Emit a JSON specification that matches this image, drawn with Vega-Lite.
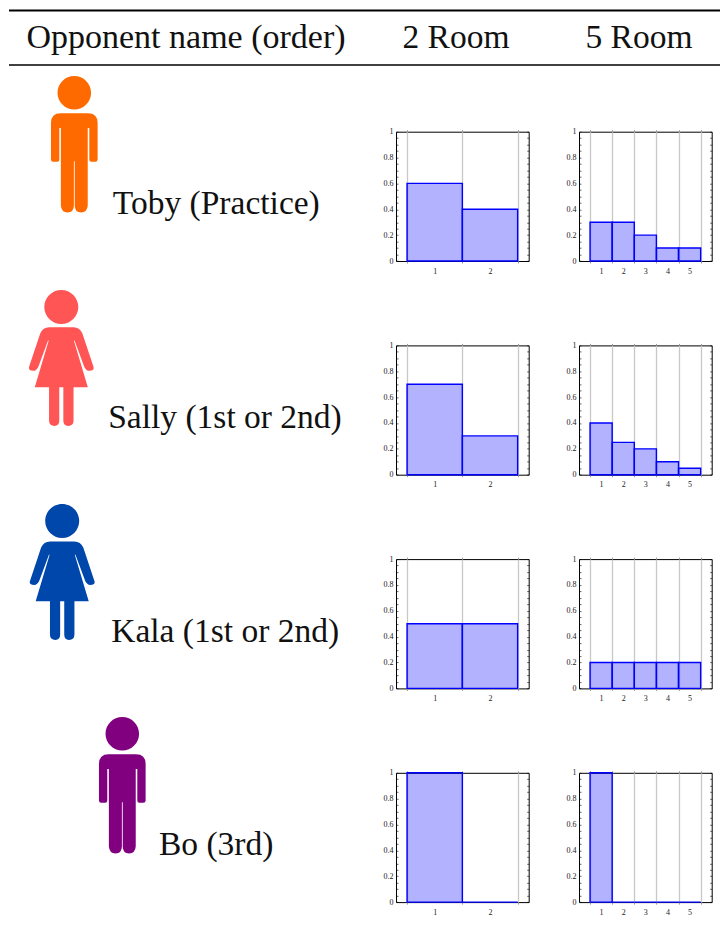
{"$schema":"https://vega.github.io/schema/vega-lite/v6.json","padding":0,"background":"white","spacing":65.7,"bounds":"flush",
"config":{"view":{"stroke":"#000000","strokeWidth":1},"text":{"font":"Liberation Serif"},"axis":{"labelFont":"Liberation Serif","labelFontSize":8,"labelColor":"#222222","title":null,"domain":false}},
"datasets":{
"opponents":[{"opponent":"Toby","label":"Toby (Practice)"},{"opponent":"Sally","label":"Sally (1st or 2nd)"},{"opponent":"Kala","label":"Kala (1st or 2nd)"},{"opponent":"Bo","label":"Bo (3rd)"}],
"results":[
{"opponent":"Toby","rooms":2,"door":1,"share":0.6},{"opponent":"Toby","rooms":2,"door":2,"share":0.4},
{"opponent":"Toby","rooms":5,"door":1,"share":0.3},{"opponent":"Toby","rooms":5,"door":2,"share":0.3},{"opponent":"Toby","rooms":5,"door":3,"share":0.2},{"opponent":"Toby","rooms":5,"door":4,"share":0.1},{"opponent":"Toby","rooms":5,"door":5,"share":0.1},
{"opponent":"Sally","rooms":2,"door":1,"share":0.7},{"opponent":"Sally","rooms":2,"door":2,"share":0.3},
{"opponent":"Sally","rooms":5,"door":1,"share":0.4},{"opponent":"Sally","rooms":5,"door":2,"share":0.25},{"opponent":"Sally","rooms":5,"door":3,"share":0.2},{"opponent":"Sally","rooms":5,"door":4,"share":0.1},{"opponent":"Sally","rooms":5,"door":5,"share":0.05},
{"opponent":"Kala","rooms":2,"door":1,"share":0.5},{"opponent":"Kala","rooms":2,"door":2,"share":0.5},
{"opponent":"Kala","rooms":5,"door":1,"share":0.2},{"opponent":"Kala","rooms":5,"door":2,"share":0.2},{"opponent":"Kala","rooms":5,"door":3,"share":0.2},{"opponent":"Kala","rooms":5,"door":4,"share":0.2},{"opponent":"Kala","rooms":5,"door":5,"share":0.2},
{"opponent":"Bo","rooms":2,"door":1,"share":1},{"opponent":"Bo","rooms":2,"door":2,"share":0},
{"opponent":"Bo","rooms":5,"door":1,"share":1},{"opponent":"Bo","rooms":5,"door":2,"share":0},{"opponent":"Bo","rooms":5,"door":3,"share":0},{"opponent":"Bo","rooms":5,"door":4,"share":0},{"opponent":"Bo","rooms":5,"door":5,"share":0}
]},
"vconcat":[
{"width":720,"height":66,"view":{"stroke":null},"layer":[
{"data":{"values":[{"rule":"top"}]},"mark":{"type":"rule","color":"#000000","strokeWidth":2},"encoding":{"x":{"datum":9,"type":"quantitative","scale":{"domain":[0,720],"range":[0,720],"nice":false},"axis":null},"x2":{"datum":720},"y":{"datum":10.5,"type":"quantitative","scale":{"domain":[0,66],"range":[0,66],"nice":false},"axis":null}}},
{"data":{"values":[{"rule":"bottom"}]},"mark":{"type":"rule","color":"#000000","strokeWidth":1.3},"encoding":{"x":{"datum":9,"type":"quantitative"},"x2":{"datum":720},"y":{"datum":65,"type":"quantitative"}}},
{"data":{"values":[{"column":"Opponent name (order)"}]},"mark":{"type":"text","fontSize":34,"align":"center","baseline":"alphabetic","color":"#111111"},"encoding":{"text":{"field":"column"},"x":{"datum":186,"type":"quantitative"},"y":{"datum":47.5,"type":"quantitative"}}},
{"data":{"values":[{"column":"2 Room"}]},"mark":{"type":"text","fontSize":33.5,"align":"center","baseline":"alphabetic","color":"#111111"},"encoding":{"text":{"field":"column"},"x":{"datum":456,"type":"quantitative"},"y":{"datum":47.5,"type":"quantitative"}}},
{"data":{"values":[{"column":"5 Room"}]},"mark":{"type":"text","fontSize":33.5,"align":"center","baseline":"alphabetic","color":"#111111"},"encoding":{"text":{"field":"column"},"x":{"datum":639,"type":"quantitative"},"y":{"datum":47.5,"type":"quantitative"}}}
]},
{"columns":3,"spacing":{"row":83.7,"column":50},"bounds":"flush","align":"each","concat":[
{"width":345.7,"height":129.3,"view":{"stroke":null},"data":{"name":"opponents"},"transform":[{"filter":"datum.opponent=='Toby'"}],"layer":[
{"mark":{"type":"point","filled":true,"opacity":1,"strokeWidth":0,"size":18605,"shape":"M-0.246,-0.755A0.246,0.246 0 1 1 0.246,-0.755A0.246,0.246 0 1 1 -0.246,-0.755ZM-0.2,-0.453L0.2,-0.453Q0.342,-0.453 0.342,-0.31L0.342,0.225Q0.342,0.257 0.31,0.257L0.25,0.257Q0.22,0.257 0.22,0.225L0.22,-0.238L0.197,-0.238L0.197,0.9Q0.19,1 0.1,1Q0.006,1 0.006,0.9L0.006,0.25L-0.006,0.25L-0.006,0.9Q-0.006,1 -0.1,1Q-0.19,1 -0.197,0.9L-0.197,-0.238L-0.22,-0.238L-0.22,0.225Q-0.22,0.257 -0.25,0.257L-0.31,0.257Q-0.342,0.257 -0.342,0.225L-0.342,-0.31Q-0.342,-0.453 -0.2,-0.453Z"},"encoding":{"x":{"datum":74.3,"type":"quantitative","scale":{"domain":[0,346.7],"range":[0,346.7],"nice":false},"axis":null},"y":{"datum":12.5,"type":"quantitative","scale":{"domain":[0,129.3],"range":[0,129.3],"nice":false},"axis":null},"color":{"field":"opponent","type":"nominal","legend":null,"scale":{"domain":["Toby","Sally","Kala","Bo"],"range":["#FF6A00","#FF5555","#0047AB","#800080"]}}}},
{"mark":{"type":"text","fontSize":33.5,"align":"center","baseline":"alphabetic","color":"#111111"},"encoding":{"text":{"field":"label"},"x":{"datum":216.3,"type":"quantitative"},"y":{"datum":81.8,"type":"quantitative"}}}
]},
{"width":132.7,"height":129.3,"data":{"name":"results"},"transform":[{"filter":"datum.opponent=='Toby'&&datum.rooms==2"}],"resolve":{"axis":{"x":"independent","y":"independent"}},"layer":[
{"mark":{"type":"bar","fill":"#0000ff","fillOpacity":0.3,"stroke":"#0000ff","strokeWidth":1.4},"encoding":{"x":{"field":"door","type":"ordinal","scale":{"type":"band","domain":[1,2],"paddingInner":0,"paddingOuter":0.2},"axis":{"orient":"bottom","tickBand":"extent","labelAngle":0,"grid":true,"gridColor":"#c8c8c8","gridWidth":1.3,"tickColor":"#999999","tickSize":2,"labelPadding":4}},"y":{"field":"share","type":"quantitative","scale":{"domain":[0,1]},"axis":{"orient":"left","grid":false,"values":[0,0.05,0.1,0.15,0.2,0.25,0.3,0.35,0.4,0.45,0.5,0.55,0.6,0.65,0.7,0.75,0.8,0.85,0.9,0.95,1],"format":"~g","labelExpr":"round(datum.value*100)%20==0?datum.label:''","tickSize":-2,"tickColor":"#000000","tickWidth":0.6,"labelPadding":5,"labelFlush":false,"labelOverlap":false}}}},
{"mark":{"type":"bar","opacity":0},"encoding":{"x":{"field":"door","type":"ordinal","axis":{"orient":"top","tickBand":"extent","labels":false,"grid":false,"tickColor":"#999999","tickSize":2}},"y":{"field":"share","type":"quantitative","axis":{"orient":"right","grid":false,"labels":false,"values":[0,0.05,0.1,0.15,0.2,0.25,0.3,0.35,0.4,0.45,0.5,0.55,0.6,0.65,0.7,0.75,0.8,0.85,0.9,0.95,1],"tickSize":-2,"tickColor":"#000000","tickWidth":0.6}}}}
]},
{"width":132.7,"height":129.3,"data":{"name":"results"},"transform":[{"filter":"datum.opponent=='Toby'&&datum.rooms==5"}],"resolve":{"axis":{"x":"independent","y":"independent"}},"layer":[
{"mark":{"type":"bar","fill":"#0000ff","fillOpacity":0.3,"stroke":"#0000ff","strokeWidth":1.4},"encoding":{"x":{"field":"door","type":"ordinal","scale":{"type":"band","domain":[1,2,3,4,5],"paddingInner":0,"paddingOuter":0.5},"axis":{"orient":"bottom","tickBand":"extent","labelAngle":0,"grid":true,"gridColor":"#c8c8c8","gridWidth":1.3,"tickColor":"#999999","tickSize":2,"labelPadding":4}},"y":{"field":"share","type":"quantitative","scale":{"domain":[0,1]},"axis":{"orient":"left","grid":false,"values":[0,0.05,0.1,0.15,0.2,0.25,0.3,0.35,0.4,0.45,0.5,0.55,0.6,0.65,0.7,0.75,0.8,0.85,0.9,0.95,1],"format":"~g","labelExpr":"round(datum.value*100)%20==0?datum.label:''","tickSize":-2,"tickColor":"#000000","tickWidth":0.6,"labelPadding":5,"labelFlush":false,"labelOverlap":false}}}},
{"mark":{"type":"bar","opacity":0},"encoding":{"x":{"field":"door","type":"ordinal","axis":{"orient":"top","tickBand":"extent","labels":false,"grid":false,"tickColor":"#999999","tickSize":2}},"y":{"field":"share","type":"quantitative","axis":{"orient":"right","grid":false,"labels":false,"values":[0,0.05,0.1,0.15,0.2,0.25,0.3,0.35,0.4,0.45,0.5,0.55,0.6,0.65,0.7,0.75,0.8,0.85,0.9,0.95,1],"tickSize":-2,"tickColor":"#000000","tickWidth":0.6}}}}
]},
{"width":345.7,"height":129.3,"view":{"stroke":null},"data":{"name":"opponents"},"transform":[{"filter":"datum.opponent=='Sally'"}],"layer":[
{"mark":{"type":"point","filled":true,"opacity":1,"strokeWidth":0,"size":18496,"shape":"M-0.25,-0.75A0.25,0.25 0 1 1 0.25,-0.75A0.25,0.25 0 1 1 -0.25,-0.75ZM-0.18,-0.45L0.18,-0.45Q0.27,-0.45 0.31,-0.36L0.47,0.12Q0.5,0.19 0.41,0.19Q0.37,0.19 0.34,0.137L0.195,-0.255L0.185,-0.255L0.39,0.43L0.18,0.43L0.18,0.92Q0.18,1 0.1,1Q0.03,1 0.03,0.92L0.03,0.43L-0.03,0.43L-0.03,0.92Q-0.03,1 -0.1,1Q-0.18,1 -0.18,0.92L-0.18,0.43L-0.39,0.43L-0.185,-0.255L-0.195,-0.255L-0.34,0.137Q-0.37,0.19 -0.41,0.19Q-0.5,0.19 -0.47,0.12L-0.31,-0.36Q-0.27,-0.45 -0.18,-0.45Z"},"encoding":{"x":{"datum":61.3,"type":"quantitative","scale":{"domain":[0,346.7],"range":[0,346.7],"nice":false},"axis":null},"y":{"datum":12.5,"type":"quantitative","scale":{"domain":[0,129.3],"range":[0,129.3],"nice":false},"axis":null},"color":{"field":"opponent","type":"nominal","legend":null,"scale":{"domain":["Toby","Sally","Kala","Bo"],"range":["#FF6A00","#FF5555","#0047AB","#800080"]}}}},
{"mark":{"type":"text","fontSize":33.5,"align":"center","baseline":"alphabetic","color":"#111111"},"encoding":{"text":{"field":"label"},"x":{"datum":225,"type":"quantitative"},"y":{"datum":82.8,"type":"quantitative"}}}
]},
{"width":132.7,"height":129.3,"data":{"name":"results"},"transform":[{"filter":"datum.opponent=='Sally'&&datum.rooms==2"}],"resolve":{"axis":{"x":"independent","y":"independent"}},"layer":[
{"mark":{"type":"bar","fill":"#0000ff","fillOpacity":0.3,"stroke":"#0000ff","strokeWidth":1.4},"encoding":{"x":{"field":"door","type":"ordinal","scale":{"type":"band","domain":[1,2],"paddingInner":0,"paddingOuter":0.2},"axis":{"orient":"bottom","tickBand":"extent","labelAngle":0,"grid":true,"gridColor":"#c8c8c8","gridWidth":1.3,"tickColor":"#999999","tickSize":2,"labelPadding":4}},"y":{"field":"share","type":"quantitative","scale":{"domain":[0,1]},"axis":{"orient":"left","grid":false,"values":[0,0.05,0.1,0.15,0.2,0.25,0.3,0.35,0.4,0.45,0.5,0.55,0.6,0.65,0.7,0.75,0.8,0.85,0.9,0.95,1],"format":"~g","labelExpr":"round(datum.value*100)%20==0?datum.label:''","tickSize":-2,"tickColor":"#000000","tickWidth":0.6,"labelPadding":5,"labelFlush":false,"labelOverlap":false}}}},
{"mark":{"type":"bar","opacity":0},"encoding":{"x":{"field":"door","type":"ordinal","axis":{"orient":"top","tickBand":"extent","labels":false,"grid":false,"tickColor":"#999999","tickSize":2}},"y":{"field":"share","type":"quantitative","axis":{"orient":"right","grid":false,"labels":false,"values":[0,0.05,0.1,0.15,0.2,0.25,0.3,0.35,0.4,0.45,0.5,0.55,0.6,0.65,0.7,0.75,0.8,0.85,0.9,0.95,1],"tickSize":-2,"tickColor":"#000000","tickWidth":0.6}}}}
]},
{"width":132.7,"height":129.3,"data":{"name":"results"},"transform":[{"filter":"datum.opponent=='Sally'&&datum.rooms==5"}],"resolve":{"axis":{"x":"independent","y":"independent"}},"layer":[
{"mark":{"type":"bar","fill":"#0000ff","fillOpacity":0.3,"stroke":"#0000ff","strokeWidth":1.4},"encoding":{"x":{"field":"door","type":"ordinal","scale":{"type":"band","domain":[1,2,3,4,5],"paddingInner":0,"paddingOuter":0.5},"axis":{"orient":"bottom","tickBand":"extent","labelAngle":0,"grid":true,"gridColor":"#c8c8c8","gridWidth":1.3,"tickColor":"#999999","tickSize":2,"labelPadding":4}},"y":{"field":"share","type":"quantitative","scale":{"domain":[0,1]},"axis":{"orient":"left","grid":false,"values":[0,0.05,0.1,0.15,0.2,0.25,0.3,0.35,0.4,0.45,0.5,0.55,0.6,0.65,0.7,0.75,0.8,0.85,0.9,0.95,1],"format":"~g","labelExpr":"round(datum.value*100)%20==0?datum.label:''","tickSize":-2,"tickColor":"#000000","tickWidth":0.6,"labelPadding":5,"labelFlush":false,"labelOverlap":false}}}},
{"mark":{"type":"bar","opacity":0},"encoding":{"x":{"field":"door","type":"ordinal","axis":{"orient":"top","tickBand":"extent","labels":false,"grid":false,"tickColor":"#999999","tickSize":2}},"y":{"field":"share","type":"quantitative","axis":{"orient":"right","grid":false,"labels":false,"values":[0,0.05,0.1,0.15,0.2,0.25,0.3,0.35,0.4,0.45,0.5,0.55,0.6,0.65,0.7,0.75,0.8,0.85,0.9,0.95,1],"tickSize":-2,"tickColor":"#000000","tickWidth":0.6}}}}
]},
{"width":345.7,"height":129.3,"view":{"stroke":null},"data":{"name":"opponents"},"transform":[{"filter":"datum.opponent=='Kala'"}],"layer":[
{"mark":{"type":"point","filled":true,"opacity":1,"strokeWidth":0,"size":18496,"shape":"M-0.25,-0.75A0.25,0.25 0 1 1 0.25,-0.75A0.25,0.25 0 1 1 -0.25,-0.75ZM-0.18,-0.45L0.18,-0.45Q0.27,-0.45 0.31,-0.36L0.47,0.12Q0.5,0.19 0.41,0.19Q0.37,0.19 0.34,0.137L0.195,-0.255L0.185,-0.255L0.39,0.43L0.18,0.43L0.18,0.92Q0.18,1 0.1,1Q0.03,1 0.03,0.92L0.03,0.43L-0.03,0.43L-0.03,0.92Q-0.03,1 -0.1,1Q-0.18,1 -0.18,0.92L-0.18,0.43L-0.39,0.43L-0.185,-0.255L-0.195,-0.255L-0.34,0.137Q-0.37,0.19 -0.41,0.19Q-0.5,0.19 -0.47,0.12L-0.31,-0.36Q-0.27,-0.45 -0.18,-0.45Z"},"encoding":{"x":{"datum":62.2,"type":"quantitative","scale":{"domain":[0,346.7],"range":[0,346.7],"nice":false},"axis":null},"y":{"datum":12.9,"type":"quantitative","scale":{"domain":[0,129.3],"range":[0,129.3],"nice":false},"axis":null},"color":{"field":"opponent","type":"nominal","legend":null,"scale":{"domain":["Toby","Sally","Kala","Bo"],"range":["#FF6A00","#FF5555","#0047AB","#800080"]}}}},
{"mark":{"type":"text","fontSize":33.5,"align":"center","baseline":"alphabetic","color":"#111111"},"encoding":{"text":{"field":"label"},"x":{"datum":225.2,"type":"quantitative"},"y":{"datum":83,"type":"quantitative"}}}
]},
{"width":132.7,"height":129.3,"data":{"name":"results"},"transform":[{"filter":"datum.opponent=='Kala'&&datum.rooms==2"}],"resolve":{"axis":{"x":"independent","y":"independent"}},"layer":[
{"mark":{"type":"bar","fill":"#0000ff","fillOpacity":0.3,"stroke":"#0000ff","strokeWidth":1.4},"encoding":{"x":{"field":"door","type":"ordinal","scale":{"type":"band","domain":[1,2],"paddingInner":0,"paddingOuter":0.2},"axis":{"orient":"bottom","tickBand":"extent","labelAngle":0,"grid":true,"gridColor":"#c8c8c8","gridWidth":1.3,"tickColor":"#999999","tickSize":2,"labelPadding":4}},"y":{"field":"share","type":"quantitative","scale":{"domain":[0,1]},"axis":{"orient":"left","grid":false,"values":[0,0.05,0.1,0.15,0.2,0.25,0.3,0.35,0.4,0.45,0.5,0.55,0.6,0.65,0.7,0.75,0.8,0.85,0.9,0.95,1],"format":"~g","labelExpr":"round(datum.value*100)%20==0?datum.label:''","tickSize":-2,"tickColor":"#000000","tickWidth":0.6,"labelPadding":5,"labelFlush":false,"labelOverlap":false}}}},
{"mark":{"type":"bar","opacity":0},"encoding":{"x":{"field":"door","type":"ordinal","axis":{"orient":"top","tickBand":"extent","labels":false,"grid":false,"tickColor":"#999999","tickSize":2}},"y":{"field":"share","type":"quantitative","axis":{"orient":"right","grid":false,"labels":false,"values":[0,0.05,0.1,0.15,0.2,0.25,0.3,0.35,0.4,0.45,0.5,0.55,0.6,0.65,0.7,0.75,0.8,0.85,0.9,0.95,1],"tickSize":-2,"tickColor":"#000000","tickWidth":0.6}}}}
]},
{"width":132.7,"height":129.3,"data":{"name":"results"},"transform":[{"filter":"datum.opponent=='Kala'&&datum.rooms==5"}],"resolve":{"axis":{"x":"independent","y":"independent"}},"layer":[
{"mark":{"type":"bar","fill":"#0000ff","fillOpacity":0.3,"stroke":"#0000ff","strokeWidth":1.4},"encoding":{"x":{"field":"door","type":"ordinal","scale":{"type":"band","domain":[1,2,3,4,5],"paddingInner":0,"paddingOuter":0.5},"axis":{"orient":"bottom","tickBand":"extent","labelAngle":0,"grid":true,"gridColor":"#c8c8c8","gridWidth":1.3,"tickColor":"#999999","tickSize":2,"labelPadding":4}},"y":{"field":"share","type":"quantitative","scale":{"domain":[0,1]},"axis":{"orient":"left","grid":false,"values":[0,0.05,0.1,0.15,0.2,0.25,0.3,0.35,0.4,0.45,0.5,0.55,0.6,0.65,0.7,0.75,0.8,0.85,0.9,0.95,1],"format":"~g","labelExpr":"round(datum.value*100)%20==0?datum.label:''","tickSize":-2,"tickColor":"#000000","tickWidth":0.6,"labelPadding":5,"labelFlush":false,"labelOverlap":false}}}},
{"mark":{"type":"bar","opacity":0},"encoding":{"x":{"field":"door","type":"ordinal","axis":{"orient":"top","tickBand":"extent","labels":false,"grid":false,"tickColor":"#999999","tickSize":2}},"y":{"field":"share","type":"quantitative","axis":{"orient":"right","grid":false,"labels":false,"values":[0,0.05,0.1,0.15,0.2,0.25,0.3,0.35,0.4,0.45,0.5,0.55,0.6,0.65,0.7,0.75,0.8,0.85,0.9,0.95,1],"tickSize":-2,"tickColor":"#000000","tickWidth":0.6}}}}
]},
{"width":345.7,"height":129.3,"view":{"stroke":null},"data":{"name":"opponents"},"transform":[{"filter":"datum.opponent=='Bo'"}],"layer":[
{"mark":{"type":"point","filled":true,"opacity":1,"strokeWidth":0,"size":18605,"shape":"M-0.246,-0.755A0.246,0.246 0 1 1 0.246,-0.755A0.246,0.246 0 1 1 -0.246,-0.755ZM-0.2,-0.453L0.2,-0.453Q0.342,-0.453 0.342,-0.31L0.342,0.225Q0.342,0.257 0.31,0.257L0.25,0.257Q0.22,0.257 0.22,0.225L0.22,-0.238L0.197,-0.238L0.197,0.9Q0.19,1 0.1,1Q0.006,1 0.006,0.9L0.006,0.25L-0.006,0.25L-0.006,0.9Q-0.006,1 -0.1,1Q-0.19,1 -0.197,0.9L-0.197,-0.238L-0.22,-0.238L-0.22,0.225Q-0.22,0.257 -0.25,0.257L-0.31,0.257Q-0.342,0.257 -0.342,0.225L-0.342,-0.31Q-0.342,-0.453 -0.2,-0.453Z"},"encoding":{"x":{"datum":122.3,"type":"quantitative","scale":{"domain":[0,346.7],"range":[0,346.7],"nice":false},"axis":null},"y":{"datum":12.4,"type":"quantitative","scale":{"domain":[0,129.3],"range":[0,129.3],"nice":false},"axis":null},"color":{"field":"opponent","type":"nominal","legend":null,"scale":{"domain":["Toby","Sally","Kala","Bo"],"range":["#FF6A00","#FF5555","#0047AB","#800080"]}}}},
{"mark":{"type":"text","fontSize":33.5,"align":"center","baseline":"alphabetic","color":"#111111"},"encoding":{"text":{"field":"label"},"x":{"datum":216.2,"type":"quantitative"},"y":{"datum":82.6,"type":"quantitative"}}}
]},
{"width":132.7,"height":129.3,"data":{"name":"results"},"transform":[{"filter":"datum.opponent=='Bo'&&datum.rooms==2"}],"resolve":{"axis":{"x":"independent","y":"independent"}},"layer":[
{"mark":{"type":"bar","fill":"#0000ff","fillOpacity":0.3,"stroke":"#0000ff","strokeWidth":1.4},"encoding":{"x":{"field":"door","type":"ordinal","scale":{"type":"band","domain":[1,2],"paddingInner":0,"paddingOuter":0.2},"axis":{"orient":"bottom","tickBand":"extent","labelAngle":0,"grid":true,"gridColor":"#c8c8c8","gridWidth":1.3,"tickColor":"#999999","tickSize":2,"labelPadding":4}},"y":{"field":"share","type":"quantitative","scale":{"domain":[0,1]},"axis":{"orient":"left","grid":false,"values":[0,0.05,0.1,0.15,0.2,0.25,0.3,0.35,0.4,0.45,0.5,0.55,0.6,0.65,0.7,0.75,0.8,0.85,0.9,0.95,1],"format":"~g","labelExpr":"round(datum.value*100)%20==0?datum.label:''","tickSize":-2,"tickColor":"#000000","tickWidth":0.6,"labelPadding":5,"labelFlush":false,"labelOverlap":false}}}},
{"mark":{"type":"bar","opacity":0},"encoding":{"x":{"field":"door","type":"ordinal","axis":{"orient":"top","tickBand":"extent","labels":false,"grid":false,"tickColor":"#999999","tickSize":2}},"y":{"field":"share","type":"quantitative","axis":{"orient":"right","grid":false,"labels":false,"values":[0,0.05,0.1,0.15,0.2,0.25,0.3,0.35,0.4,0.45,0.5,0.55,0.6,0.65,0.7,0.75,0.8,0.85,0.9,0.95,1],"tickSize":-2,"tickColor":"#000000","tickWidth":0.6}}}}
]},
{"width":132.7,"height":129.3,"data":{"name":"results"},"transform":[{"filter":"datum.opponent=='Bo'&&datum.rooms==5"}],"resolve":{"axis":{"x":"independent","y":"independent"}},"layer":[
{"mark":{"type":"bar","fill":"#0000ff","fillOpacity":0.3,"stroke":"#0000ff","strokeWidth":1.4},"encoding":{"x":{"field":"door","type":"ordinal","scale":{"type":"band","domain":[1,2,3,4,5],"paddingInner":0,"paddingOuter":0.5},"axis":{"orient":"bottom","tickBand":"extent","labelAngle":0,"grid":true,"gridColor":"#c8c8c8","gridWidth":1.3,"tickColor":"#999999","tickSize":2,"labelPadding":4}},"y":{"field":"share","type":"quantitative","scale":{"domain":[0,1]},"axis":{"orient":"left","grid":false,"values":[0,0.05,0.1,0.15,0.2,0.25,0.3,0.35,0.4,0.45,0.5,0.55,0.6,0.65,0.7,0.75,0.8,0.85,0.9,0.95,1],"format":"~g","labelExpr":"round(datum.value*100)%20==0?datum.label:''","tickSize":-2,"tickColor":"#000000","tickWidth":0.6,"labelPadding":5,"labelFlush":false,"labelOverlap":false}}}},
{"mark":{"type":"bar","opacity":0},"encoding":{"x":{"field":"door","type":"ordinal","axis":{"orient":"top","tickBand":"extent","labels":false,"grid":false,"tickColor":"#999999","tickSize":2}},"y":{"field":"share","type":"quantitative","axis":{"orient":"right","grid":false,"labels":false,"values":[0,0.05,0.1,0.15,0.2,0.25,0.3,0.35,0.4,0.45,0.5,0.55,0.6,0.65,0.7,0.75,0.8,0.85,0.9,0.95,1],"tickSize":-2,"tickColor":"#000000","tickWidth":0.6}}}}
]}
]}
]}
